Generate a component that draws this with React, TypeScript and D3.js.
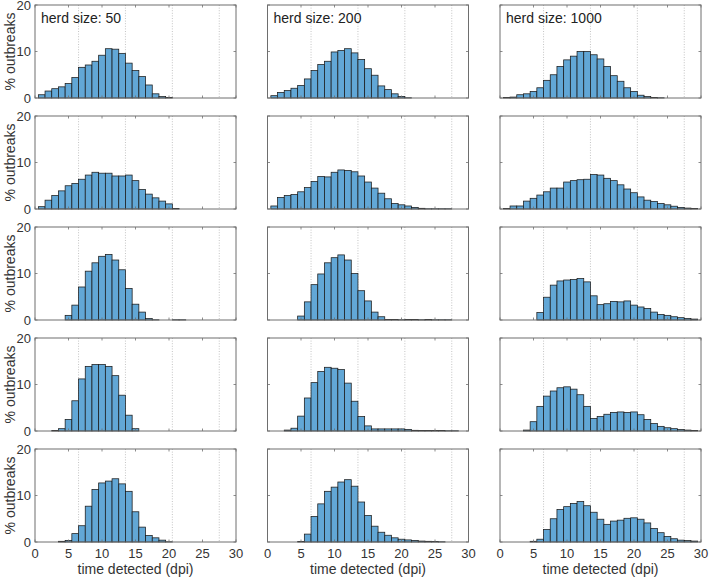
import React from "react";
import * as d3 from "d3";

// bin centres 1..29 (bin width 1)
const binCenters = d3.range(1, 30);
const xTicks = [0, 5, 10, 15, 20, 25, 30];
const yTicks = [0, 10, 20];
const gridDays = [6.5, 13.5, 20.5, 27.5];
const herdSizes = ["herd size: 50", "herd size: 200", "herd size: 1000"];

const row1_h50 = [0.7, 1.5, 2.0, 2.4, 3.1, 4.4, 6.6, 7.1, 7.9, 9.2, 10.6, 10.5, 9.6, 7.5, 5.9, 4.6, 2.8, 0.9, 0.3, 0.1, 0, 0, 0, 0, 0, 0, 0, 0, 0];
const row1_h200 = [0.5, 1.2, 1.6, 2.1, 2.7, 4.1, 5.9, 7.2, 7.9, 9.9, 10.2, 10.6, 9.7, 8.3, 6.3, 4.9, 2.6, 1.8, 0.9, 0.35, 0.05, 0, 0, 0, 0, 0, 0, 0, 0];
const row1_h1000 = [0.1, 0.2, 0.7, 0.9, 1.4, 2.2, 3.8, 5.0, 6.8, 8.2, 9.0, 10.0, 10.0, 9.3, 8.4, 6.8, 4.8, 3.6, 2.2, 1.4, 0.6, 0.3, 0.1, 0.05, 0, 0, 0, 0, 0];

const row2_h50 = [0.5, 1.9, 2.9, 3.9, 5.0, 5.5, 6.4, 7.3, 7.9, 7.7, 7.7, 7.1, 7.1, 7.3, 6.1, 4.2, 3.2, 2.4, 1.7, 1.1, 0.1, 0, 0, 0, 0, 0, 0, 0, 0];
const row2_h200 = [0.65, 2.5, 2.9, 3.1, 3.7, 4.6, 5.9, 7.0, 6.9, 7.9, 8.4, 8.3, 8.0, 7.1, 5.8, 4.5, 3.4, 2.2, 1.2, 0.9, 0.65, 0.35, 0.15, 0.05, 0.05, 0.05, 0.05, 0, 0];
const row2_h1000 = [0.1, 0.65, 0.65, 1.7, 2.3, 3.0, 3.7, 4.5, 4.5, 5.8, 6.1, 6.3, 6.4, 7.4, 7.3, 6.6, 6.1, 5.2, 4.3, 3.5, 2.6, 1.9, 1.6, 1.2, 0.9, 0.6, 0.35, 0.2, 0.1];

const row3_h50 = [0, 0, 0, 0, 1.0, 3.2, 7.1, 10.5, 12.3, 13.7, 14.1, 12.9, 10.8, 6.8, 3.4, 1.7, 0.3, 0.05, 0, 0, 0.05, 0.05, 0, 0, 0, 0, 0, 0, 0];
const row3_h200 = [0, 0, 0, 0, 0.85, 3.9, 7.6, 9.9, 12.3, 13.4, 14.0, 12.9, 10.0, 6.3, 4.1, 1.7, 0.7, 0.1, 0.1, 0.05, 0.1, 0.1, 0.05, 0.1, 0.05, 0.05, 0.05, 0, 0];
const row3_h1000 = [0, 0, 0, 0, 0, 1.6, 4.9, 7.5, 8.4, 8.6, 8.7, 8.9, 8.2, 5.2, 3.3, 3.5, 4.0, 3.9, 4.1, 3.2, 2.8, 2.5, 1.7, 1.2, 1.0, 0.7, 0.5, 0.35, 0.2];

const row4_h50 = [0, 0, 0.1, 0.5, 2.5, 6.5, 11.2, 13.9, 14.3, 14.3, 13.9, 11.9, 7.7, 3.4, 0.5, 0, 0, 0, 0, 0, 0, 0, 0, 0, 0, 0, 0, 0, 0];
const row4_h200 = [0, 0, 0.2, 0.6, 3.2, 7.1, 10.4, 12.8, 13.7, 13.5, 13.2, 10.3, 6.4, 3.1, 1.1, 0.45, 0.45, 0.45, 0.45, 0.45, 0.35, 0.15, 0.1, 0.1, 0.1, 0.1, 0.05, 0.05, 0];
const row4_h1000 = [0, 0, 0, 0.2, 2.0, 5.3, 7.5, 8.6, 9.3, 9.5, 9.0, 7.8, 5.3, 2.7, 3.1, 3.6, 4.0, 4.1, 4.0, 4.1, 3.5, 2.5, 1.6, 1.0, 0.7, 0.5, 0.3, 0.2, 0.1];

const row5_h50 = [0, 0, 0, 0.15, 0.35, 1.8, 3.5, 7.7, 11.3, 12.7, 13.1, 13.6, 12.5, 10.9, 6.5, 3.2, 1.4, 0.9, 0.4, 0.05, 0, 0, 0, 0, 0, 0, 0, 0, 0];
const row5_h200 = [0, 0, 0, 0, 0.1, 1.7, 5.5, 8.2, 10.9, 11.8, 12.9, 13.4, 12.0, 8.6, 5.7, 3.4, 2.1, 1.45, 0.9, 0.6, 0.45, 0.35, 0.2, 0.15, 0.1, 0.05, 0, 0, 0];
const row5_h1000 = [0, 0, 0, 0, 0.15, 0.6, 2.7, 5.0, 7.0, 7.6, 8.3, 8.7, 7.8, 6.4, 4.9, 3.8, 4.5, 4.7, 5.1, 5.2, 4.9, 4.1, 2.9, 2.0, 1.2, 0.7, 0.4, 0.3, 0.2];

const panels = [
  [row1_h50, row1_h200, row1_h1000],
  [row2_h50, row2_h200, row2_h1000],
  [row3_h50, row3_h200, row3_h1000],
  [row4_h50, row4_h200, row4_h1000],
  [row5_h50, row5_h200, row5_h1000],
];

const W = 709;
const H = 582;
const PW = 201;
const PH = 93;
const colLefts = [35, 267.5, 500];
const rowTops = [5, 116, 227, 338, 449];
const FONT = "'Liberation Sans', Arial, Helvetica, sans-serif";
const TEXT = "#333333";
const AXIS = "#6e6e6e";

function Panel({ data, left, top, r, c }: { data: number[]; left: number; top: number; r: number; c: number }) {
  const x = d3.scaleLinear().domain([0, 30]).range([0, PW]);
  const y = d3.scaleLinear().domain([0, 20]).range([PH, 0]);
  const tl = 2.5;
  return (
    <g transform={`translate(${left},${top})`}>
      {gridDays.map((g) => (
        <line key={g} x1={x(g)} x2={x(g)} y1={0} y2={PH} stroke="#b5b5b5" strokeWidth={0.8} strokeDasharray="1,1.6" />
      ))}
      {binCenters.map((b, i) => {
        const v = data[i];
        if (!v) return null;
        return (
          <rect
            key={b}
            x={x(b - 0.5)}
            y={y(v)}
            width={x(b + 0.5) - x(b - 0.5)}
            height={y(0) - y(v)}
            fill="#62a7d6"
            stroke="#1a1a1a"
            strokeWidth={0.75}
          />
        );
      })}
      {xTicks.map((t) => (
        <g key={"xt" + t}>
          <line x1={x(t)} x2={x(t)} y1={PH} y2={PH - tl} stroke={AXIS} strokeWidth={0.8} />
          <line x1={x(t)} x2={x(t)} y1={0} y2={tl} stroke={AXIS} strokeWidth={0.8} />
        </g>
      ))}
      {yTicks.map((t) => (
        <g key={"yt" + t}>
          <line x1={0} x2={tl} y1={y(t)} y2={y(t)} stroke={AXIS} strokeWidth={0.8} />
          <line x1={PW} x2={PW - tl} y1={y(t)} y2={y(t)} stroke={AXIS} strokeWidth={0.8} />
        </g>
      ))}
      <rect x={0} y={0} width={PW} height={PH} fill="none" stroke={AXIS} strokeWidth={1} />
      {c === 0 &&
        yTicks.map((t) => (
          <text key={"yl" + t} x={-4} y={y(t)} dy="0.35em" textAnchor="end" fontSize={13} fill={TEXT} fontFamily={FONT}>
            {t}
          </text>
        ))}
      {c === 0 && (
        <text
          transform={`translate(${-20},${PH / 2}) rotate(-90)`}
          textAnchor="middle"
          fontSize={14}
          fill={TEXT}
          fontFamily={FONT}
        >
          % outbreaks
        </text>
      )}
      {r === 4 &&
        xTicks.map((t) => (
          <text key={"xl" + t} x={x(t)} y={PH + 16} textAnchor="middle" fontSize={13} fill={TEXT} fontFamily={FONT}>
            {t}
          </text>
        ))}
      {r === 4 && (
        <text x={PW / 2} y={PH + 32} textAnchor="middle" fontSize={14} fill={TEXT} fontFamily={FONT}>
          time detected (dpi)
        </text>
      )}
      {r === 0 && (
        <text x={6} y={18} fontSize={14} fill="#222" fontFamily={FONT}>
          {herdSizes[c]}
        </text>
      )}
    </g>
  );
}

export default function App() {
  return (
    <svg
      width={W}
      height={H}
      viewBox={`0 0 ${W} ${H}`}
      style={{ position: "absolute", left: 0, top: 0, background: "#fff" }}
    >
      <rect x={0} y={0} width={W} height={H} fill="#fff" />
      {panels.map((row, r) =>
        row.map((data, c) => <Panel key={`${r}-${c}`} data={data} left={colLefts[c]} top={rowTops[r]} r={r} c={c} />)
      )}
    </svg>
  );
}
